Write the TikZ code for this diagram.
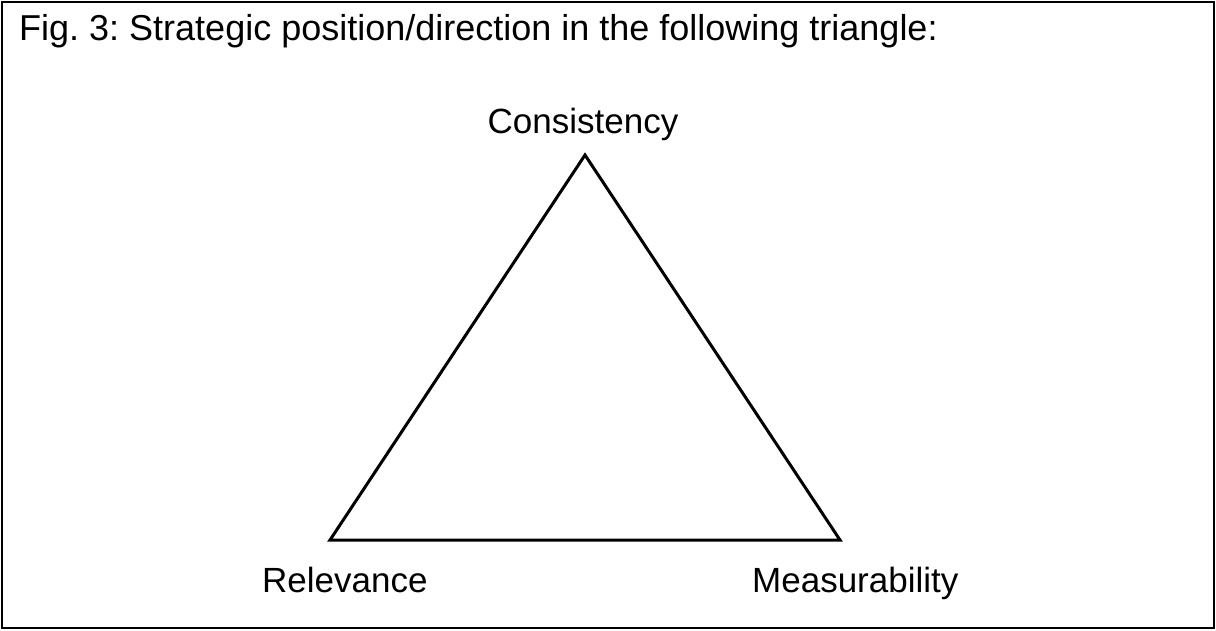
\documentclass[tikz,border=0pt]{standalone}
\usepackage{fontspec}
\setmainfont{Liberation Sans}
\usetikzlibrary{positioning}
\frenchspacing

\tikzset{lab/.style={inner sep=0pt,font=\fontsize{35}{42}\selectfont}}

\begin{document}
\begin{tikzpicture}[x=1pt,y=-1pt]
 \useasboundingbox (0,0) rectangle (1216,630);
 % frame
 \draw[line width=2pt] (2,2) rectangle (1214,628);
 \node[lab,font=\fontsize{36}{43}\selectfont,anchor=base west] (title) at (19,40) {Fig. 3: Strategic position/direction in the following triangle:};
 % triangle
 \coordinate (top) at (585,155);
 \coordinate (left) at (330,540);
 \coordinate (right) at (840,540);
 \draw[line width=3pt,line join=miter] (top) -- (left) -- (right) -- cycle;
 \node[lab,anchor=base] (cons) at (583,133) {Consistency};
 \node[lab,anchor=base west] (rel) at (262,592) {Relevance};
 \node[lab,anchor=base west] (meas) at (752,592) {Measurability};
\end{tikzpicture}
\end{document}
